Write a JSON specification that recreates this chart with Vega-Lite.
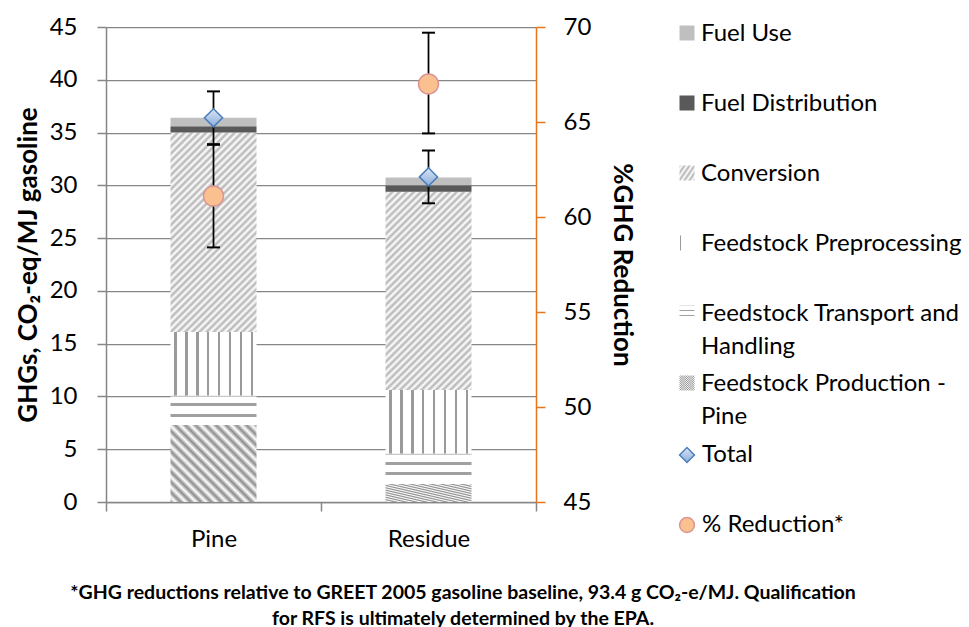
{
  "$schema": "https://vega.github.io/schema/vega-lite/v6.json",
  "width": 430,
  "height": 475,
  "autosize": "none",
  "padding": {"left": 106, "top": 27, "right": 433, "bottom": 125},
  "background": "white",
  "params": [
    {"name": "gConv", "value": {"gradient": "linear", "x1": 0, "y1": 0, "x2": 0.519, "y2": 1.207, "stops": [
      {"offset": 0, "color": "#b4b4b4"}, {"offset": 0.0125, "color": "#fff"}, {"offset": 0.025, "color": "#b4b4b4"}, {"offset": 0.0375, "color": "#fff"},
      {"offset": 0.05, "color": "#b4b4b4"}, {"offset": 0.0625, "color": "#fff"}, {"offset": 0.075, "color": "#b4b4b4"}, {"offset": 0.0875, "color": "#fff"},
      {"offset": 0.1, "color": "#b4b4b4"}, {"offset": 0.1125, "color": "#fff"}, {"offset": 0.125, "color": "#b4b4b4"}, {"offset": 0.1375, "color": "#fff"},
      {"offset": 0.15, "color": "#b4b4b4"}, {"offset": 0.1625, "color": "#fff"}, {"offset": 0.175, "color": "#b4b4b4"}, {"offset": 0.1875, "color": "#fff"},
      {"offset": 0.2, "color": "#b4b4b4"}, {"offset": 0.2125, "color": "#fff"}, {"offset": 0.225, "color": "#b4b4b4"}, {"offset": 0.2375, "color": "#fff"},
      {"offset": 0.25, "color": "#b4b4b4"}, {"offset": 0.2625, "color": "#fff"}, {"offset": 0.275, "color": "#b4b4b4"}, {"offset": 0.2875, "color": "#fff"},
      {"offset": 0.3, "color": "#b4b4b4"}, {"offset": 0.3125, "color": "#fff"}, {"offset": 0.325, "color": "#b4b4b4"}, {"offset": 0.3375, "color": "#fff"},
      {"offset": 0.35, "color": "#b4b4b4"}, {"offset": 0.3625, "color": "#fff"}, {"offset": 0.375, "color": "#b4b4b4"}, {"offset": 0.3875, "color": "#fff"},
      {"offset": 0.4, "color": "#b4b4b4"}, {"offset": 0.4125, "color": "#fff"}, {"offset": 0.425, "color": "#b4b4b4"}, {"offset": 0.4375, "color": "#fff"},
      {"offset": 0.45, "color": "#b4b4b4"}, {"offset": 0.4625, "color": "#fff"}, {"offset": 0.475, "color": "#b4b4b4"}, {"offset": 0.4875, "color": "#fff"},
      {"offset": 0.5, "color": "#b4b4b4"}, {"offset": 0.5125, "color": "#fff"}, {"offset": 0.525, "color": "#b4b4b4"}, {"offset": 0.5375, "color": "#fff"},
      {"offset": 0.55, "color": "#b4b4b4"}, {"offset": 0.5625, "color": "#fff"}, {"offset": 0.575, "color": "#b4b4b4"}, {"offset": 0.5875, "color": "#fff"},
      {"offset": 0.6, "color": "#b4b4b4"}, {"offset": 0.6125, "color": "#fff"}, {"offset": 0.625, "color": "#b4b4b4"}, {"offset": 0.6375, "color": "#fff"},
      {"offset": 0.65, "color": "#b4b4b4"}, {"offset": 0.6625, "color": "#fff"}, {"offset": 0.675, "color": "#b4b4b4"}, {"offset": 0.6875, "color": "#fff"},
      {"offset": 0.7, "color": "#b4b4b4"}, {"offset": 0.7125, "color": "#fff"}, {"offset": 0.725, "color": "#b4b4b4"}, {"offset": 0.7375, "color": "#fff"},
      {"offset": 0.75, "color": "#b4b4b4"}, {"offset": 0.7625, "color": "#fff"}, {"offset": 0.775, "color": "#b4b4b4"}, {"offset": 0.7875, "color": "#fff"},
      {"offset": 0.8, "color": "#b4b4b4"}, {"offset": 0.8125, "color": "#fff"}, {"offset": 0.825, "color": "#b4b4b4"}, {"offset": 0.8375, "color": "#fff"},
      {"offset": 0.85, "color": "#b4b4b4"}, {"offset": 0.8625, "color": "#fff"}, {"offset": 0.875, "color": "#b4b4b4"}, {"offset": 0.8875, "color": "#fff"},
      {"offset": 0.9, "color": "#b4b4b4"}, {"offset": 0.9125, "color": "#fff"}, {"offset": 0.925, "color": "#b4b4b4"}, {"offset": 0.9375, "color": "#fff"},
      {"offset": 0.95, "color": "#b4b4b4"}, {"offset": 0.9625, "color": "#fff"}, {"offset": 0.975, "color": "#b4b4b4"}, {"offset": 0.9875, "color": "#fff"},
      {"offset": 1, "color": "#b4b4b4"}
    ]}},
    {"name": "gProd", "value": {"gradient": "linear", "x1": 0, "y1": 1, "x2": 1.052, "y2": 0.058, "stops": [
      {"offset": 0, "color": "#8c8c8c"}, {"offset": 0.03125, "color": "#fff"}, {"offset": 0.0625, "color": "#8c8c8c"}, {"offset": 0.09375, "color": "#fff"},
      {"offset": 0.125, "color": "#8c8c8c"}, {"offset": 0.15625, "color": "#fff"}, {"offset": 0.1875, "color": "#8c8c8c"}, {"offset": 0.21875, "color": "#fff"},
      {"offset": 0.25, "color": "#8c8c8c"}, {"offset": 0.28125, "color": "#fff"}, {"offset": 0.3125, "color": "#8c8c8c"}, {"offset": 0.34375, "color": "#fff"},
      {"offset": 0.375, "color": "#8c8c8c"}, {"offset": 0.40625, "color": "#fff"}, {"offset": 0.4375, "color": "#8c8c8c"}, {"offset": 0.46875, "color": "#fff"},
      {"offset": 0.5, "color": "#8c8c8c"}, {"offset": 0.53125, "color": "#fff"}, {"offset": 0.5625, "color": "#8c8c8c"}, {"offset": 0.59375, "color": "#fff"},
      {"offset": 0.625, "color": "#8c8c8c"}, {"offset": 0.65625, "color": "#fff"}, {"offset": 0.6875, "color": "#8c8c8c"}, {"offset": 0.71875, "color": "#fff"},
      {"offset": 0.75, "color": "#8c8c8c"}, {"offset": 0.78125, "color": "#fff"}, {"offset": 0.8125, "color": "#8c8c8c"}, {"offset": 0.84375, "color": "#fff"},
      {"offset": 0.875, "color": "#8c8c8c"}, {"offset": 0.90625, "color": "#fff"}, {"offset": 0.9375, "color": "#8c8c8c"}, {"offset": 0.96875, "color": "#fff"},
      {"offset": 1, "color": "#8c8c8c"}
    ]}},
    {"name": "gPre", "value": {"gradient": "linear", "x1": 0, "y1": 0, "x2": 1, "y2": 0, "stops": [
      {"offset": 0, "color": "#fff"},
      {"offset": 0.044, "color": "#fff"}, {"offset": 0.044, "color": "#9a9a9a"}, {"offset": 0.072, "color": "#9a9a9a"}, {"offset": 0.072, "color": "#fff"},
      {"offset": 0.171, "color": "#fff"}, {"offset": 0.171, "color": "#9a9a9a"}, {"offset": 0.199, "color": "#9a9a9a"}, {"offset": 0.199, "color": "#fff"},
      {"offset": 0.298, "color": "#fff"}, {"offset": 0.298, "color": "#9a9a9a"}, {"offset": 0.326, "color": "#9a9a9a"}, {"offset": 0.326, "color": "#fff"},
      {"offset": 0.425, "color": "#fff"}, {"offset": 0.425, "color": "#9a9a9a"}, {"offset": 0.453, "color": "#9a9a9a"}, {"offset": 0.453, "color": "#fff"},
      {"offset": 0.552, "color": "#fff"}, {"offset": 0.552, "color": "#9a9a9a"}, {"offset": 0.58, "color": "#9a9a9a"}, {"offset": 0.58, "color": "#fff"},
      {"offset": 0.68, "color": "#fff"}, {"offset": 0.68, "color": "#9a9a9a"}, {"offset": 0.708, "color": "#9a9a9a"}, {"offset": 0.708, "color": "#fff"},
      {"offset": 0.807, "color": "#fff"}, {"offset": 0.807, "color": "#9a9a9a"}, {"offset": 0.835, "color": "#9a9a9a"}, {"offset": 0.835, "color": "#fff"},
      {"offset": 0.934, "color": "#fff"}, {"offset": 0.934, "color": "#9a9a9a"}, {"offset": 0.962, "color": "#9a9a9a"}, {"offset": 0.962, "color": "#fff"},
      {"offset": 1, "color": "#fff"}
    ]}},
    {"name": "gTrans", "value": {"gradient": "linear", "x1": 0, "y1": 0, "x2": 0, "y2": 1, "stops": [
      {"offset": 0, "color": "#c8c8c8"}, {"offset": 0.05, "color": "#c8c8c8"}, {"offset": 0.05, "color": "#fff"},
      {"offset": 0.27, "color": "#fff"}, {"offset": 0.27, "color": "#a0a0a0"}, {"offset": 0.37, "color": "#a0a0a0"}, {"offset": 0.37, "color": "#fff"},
      {"offset": 0.62, "color": "#fff"}, {"offset": 0.62, "color": "#a0a0a0"}, {"offset": 0.72, "color": "#a0a0a0"}, {"offset": 0.72, "color": "#fff"},
      {"offset": 1, "color": "#fff"}
    ]}},
    {"name": "gDiamond", "value": {"gradient": "linear", "x1": 0, "y1": 0, "x2": 0, "y2": 1, "stops": [
      {"offset": 0, "color": "#dae5f5"}, {"offset": 1, "color": "#8aaddb"}
    ]}}
  ],
  "datasets": {
    "bars": [
      {"site": "Pine", "stage": "Feedstock Production - Pine", "step": 1, "value": 7.3},
      {"site": "Pine", "stage": "Feedstock Transport and Handling", "step": 2, "value": 2.8},
      {"site": "Pine", "stage": "Feedstock Preprocessing", "step": 3, "value": 6.0},
      {"site": "Pine", "stage": "Conversion", "step": 4, "value": 18.9},
      {"site": "Pine", "stage": "Fuel Distribution", "step": 5, "value": 0.6},
      {"site": "Pine", "stage": "Fuel Use", "step": 6, "value": 0.8},
      {"site": "Residue", "stage": "Feedstock Production - Pine", "step": 1, "value": 1.7},
      {"site": "Residue", "stage": "Feedstock Transport and Handling", "step": 2, "value": 2.9},
      {"site": "Residue", "stage": "Feedstock Preprocessing", "step": 3, "value": 6.0},
      {"site": "Residue", "stage": "Conversion", "step": 4, "value": 18.8},
      {"site": "Residue", "stage": "Fuel Distribution", "step": 5, "value": 0.6},
      {"site": "Residue", "stage": "Fuel Use", "step": 6, "value": 0.75}
    ],
    "stats": [
      {"site": "Pine", "total": 36.4, "total_lo": 33.9, "total_hi": 38.9, "red": 61.1, "red_lo": 58.4, "red_hi": 63.8},
      {"site": "Residue", "total": 30.8, "total_lo": 28.3, "total_hi": 33.3, "red": 67.0, "red_lo": 64.4, "red_hi": 69.7}
    ]
  },
  "title": {
    "text": ["*GHG reductions relative to GREET 2005 gasoline baseline, 93.4 g CO₂-e/MJ. Qualification", "for RFS is ultimately determined by the EPA."],
    "orient": "bottom", "anchor": "middle", "frame": "group", "dx": 142, "offset": 33,
    "font": "Lato", "fontSize": 19.5, "fontWeight": "bold", "lineHeight": 25.5, "color": "#000"
  },
  "layer": [
    {
      "layer": [
        {
          "data": {"name": "bars"},
          "mark": {"type": "bar", "width": {"band": 0.4}},
          "encoding": {
            "x": {"field": "site", "type": "nominal", "scale": {"domain": ["Pine", "Residue"], "paddingInner": 0, "paddingOuter": 0}, "axis": {"title": null, "labelAngle": 0, "tickBand": "extent", "labelPadding": 16}},
            "y": {"field": "value", "type": "quantitative", "stack": "zero", "scale": {"domain": [0, 45], "nice": false}, "axis": {"title": "GHGs, CO₂-eq/MJ gasoline", "values": [0, 5, 10, 15, 20, 25, 30, 35, 40, 45], "labelPadding": 20, "titlePadding": 8}},
            "color": {
              "field": "stage", "type": "nominal",
              "scale": {"domain": ["Fuel Use", "Fuel Distribution", "Conversion", "Feedstock Preprocessing", "Feedstock Transport and Handling", "Feedstock Production - Pine"],
                        "range": ["#bfbfbf", "#595959", {"expr": "gConv"}, {"expr": "gPre"}, {"expr": "gTrans"}, {"expr": "gProd"}]},
              "legend": {
                "title": null, "orient": "none", "legendX": 569, "legendY": -6, "padding": 0,
                "symbolType": "square", "symbolSize": 225, "symbolStrokeWidth": 0,
                "labelFont": "Lato", "labelFontSize": 24, "labelColor": "#000", "labelOffset": 2, "labelLimit": 400, "labelBaseline": "top",
                "rowPadding": 12, "clipHeight": 24,
                "labelExpr": "datum.label == 'Feedstock Transport and Handling' ? ['Feedstock Transport and', 'Handling'] : datum.label == 'Feedstock Production - Pine' ? ['Feedstock Production -', 'Pine'] : [datum.label, '']",
                "encoding": {"labels": {"lineHeight": {"value": 33}, "dy": {"value": -11}}}
              }
            },
            "order": {"field": "step", "type": "quantitative"}
          }
        },
        {
          "data": {"name": "stats"},
          "mark": {"type": "rule", "color": "#000", "strokeWidth": 1.75},
          "encoding": {
            "x": {"field": "site", "type": "nominal"},
            "y": {"field": "total_lo", "type": "quantitative", "title": "GHGs, CO₂-eq/MJ gasoline"},
            "y2": {"field": "total_hi"}
          }
        },
        {
          "data": {"name": "stats"},
          "mark": {"type": "tick", "color": "#000", "orient": "horizontal", "size": 13, "thickness": 2, "opacity": 1},
          "encoding": {
            "x": {"field": "site", "type": "nominal"},
            "y": {"field": "total_lo", "type": "quantitative", "title": "GHGs, CO₂-eq/MJ gasoline"}
          }
        },
        {
          "data": {"name": "stats"},
          "mark": {"type": "tick", "color": "#000", "orient": "horizontal", "size": 13, "thickness": 2, "opacity": 1},
          "encoding": {
            "x": {"field": "site", "type": "nominal"},
            "y": {"field": "total_hi", "type": "quantitative", "title": "GHGs, CO₂-eq/MJ gasoline"}
          }
        },
        {
          "data": {"name": "stats"},
          "mark": {"type": "point", "size": 330, "opacity": 1, "strokeWidth": 1.5},
          "encoding": {
            "x": {"field": "site", "type": "nominal"},
            "y": {"field": "total", "type": "quantitative", "title": "GHGs, CO₂-eq/MJ gasoline"},
            "shape": {"datum": "Total", "type": "nominal", "scale": {"domain": ["Total", "% Reduction*"], "range": ["diamond", "circle"]}, "legend": {"title": null, "orient": "none", "legendX": 569, "legendY": 416, "padding": 0, "symbolSize": 220, "labelFont": "Lato", "labelFontSize": 24, "labelColor": "#000", "labelOffset": 3, "labelLimit": 400, "rowPadding": 46}},
            "fill": {"datum": "Total", "type": "nominal", "scale": {"domain": ["Total", "% Reduction*"], "range": [{"expr": "gDiamond"}, "#fac090"]}, "legend": {"title": null, "orient": "none", "legendX": 569, "legendY": 416, "padding": 0, "symbolSize": 220, "labelFont": "Lato", "labelFontSize": 24, "labelColor": "#000", "labelOffset": 3, "labelLimit": 400, "rowPadding": 46}},
            "stroke": {"datum": "Total", "type": "nominal", "scale": {"domain": ["Total", "% Reduction*"], "range": ["#4a7ebb", "#d99694"]}, "legend": {"title": null, "orient": "none", "legendX": 569, "legendY": 416, "padding": 0, "symbolSize": 220, "labelFont": "Lato", "labelFontSize": 24, "labelColor": "#000", "labelOffset": 3, "labelLimit": 400, "rowPadding": 46}}
          }
        }
      ]
    },
    {
      "layer": [
        {
          "data": {"name": "stats"},
          "mark": {"type": "rule", "color": "#000", "strokeWidth": 1.75},
          "encoding": {
            "x": {"field": "site", "type": "nominal"},
            "y": {"field": "red_lo", "type": "quantitative", "title": "%GHG Reduction", "scale": {"domain": [45, 70], "nice": false, "zero": false}, "axis": {"orient": "right", "values": [45, 50, 55, 60, 65, 70], "grid": false, "labelPadding": 18, "titlePadding": 18, "domainColor": "#e8751a", "tickColor": "#e8751a"}},
            "y2": {"field": "red_hi"}
          }
        },
        {
          "data": {"name": "stats"},
          "mark": {"type": "tick", "color": "#000", "orient": "horizontal", "size": 13, "thickness": 2, "opacity": 1},
          "encoding": {
            "x": {"field": "site", "type": "nominal"},
            "y": {"field": "red_lo", "type": "quantitative", "title": "%GHG Reduction"}
          }
        },
        {
          "data": {"name": "stats"},
          "mark": {"type": "tick", "color": "#000", "orient": "horizontal", "size": 13, "thickness": 2, "opacity": 1},
          "encoding": {
            "x": {"field": "site", "type": "nominal"},
            "y": {"field": "red_hi", "type": "quantitative", "title": "%GHG Reduction"}
          }
        },
        {
          "data": {"name": "stats"},
          "mark": {"type": "point", "size": 400, "opacity": 1, "strokeWidth": 1.5},
          "encoding": {
            "x": {"field": "site", "type": "nominal"},
            "y": {"field": "red", "type": "quantitative", "title": "%GHG Reduction"},
            "shape": {"datum": "% Reduction*", "type": "nominal"},
            "fill": {"datum": "% Reduction*", "type": "nominal"},
            "stroke": {"datum": "% Reduction*", "type": "nominal"}
          }
        }
      ]
    }
  ],
  "resolve": {"scale": {"y": "independent"}},
  "config": {
    "view": {"stroke": null},
    "font": "Lato",
    "axis": {
      "labelFont": "Lato", "labelFontSize": 24, "labelColor": "#000",
      "titleFont": "Lato", "titleFontSize": 26, "titleFontWeight": "bold", "titleColor": "#000",
      "domainColor": "#868686", "domainWidth": 1.5, "tickColor": "#868686", "tickWidth": 1.5, "tickSize": 9,
      "grid": false
    },
    "axisLeft": {"grid": true, "gridColor": "#868686", "gridWidth": 1.25}
  }
}
